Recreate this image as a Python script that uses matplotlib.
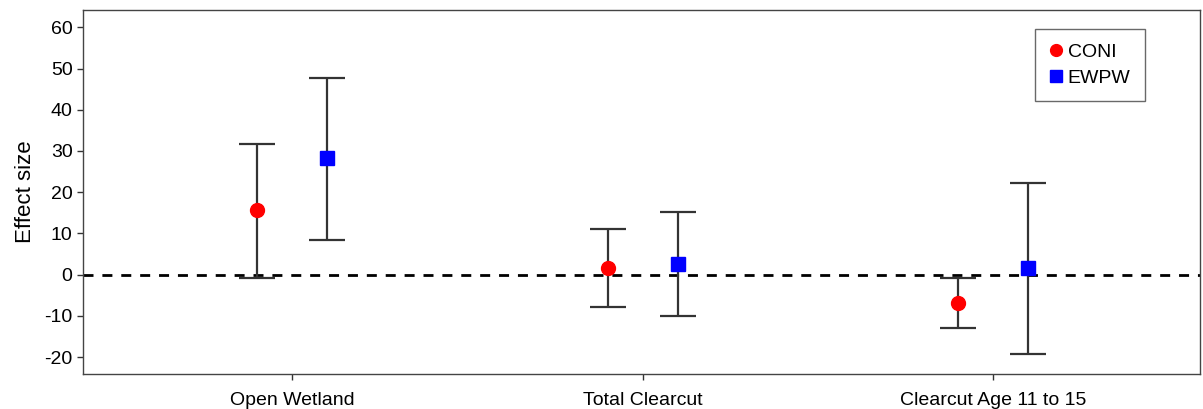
import numpy as np
import matplotlib.pyplot as plt

plt.rcParams['font.family'] = ['Liberation Sans', 'DejaVu Sans']
plt.rcParams['axes.unicode_minus'] = False

# data
categories = ['Open Wetland', 'Total Clearcut', 'Clearcut Age 11 to 15']
coni_est = [15.6, 1.7, -6.8]
coni_lo = [-0.7, -7.8, -12.9]
coni_hi = [31.8, 11.0, -0.9]
ewpw_est = [28.2, 2.6, 1.6]
ewpw_lo = [8.4, -10.1, -19.3]
ewpw_hi = [47.7, 15.3, 22.3]

x = np.arange(len(categories))
off = 0.1

fig = plt.figure(figsize=(12.03, 4.09), dpi=100)
ax = fig.add_axes([0.069, 0.0856, 0.9285, 0.89])

ax.axhline(0, color='black', linestyle=(0, (3.6, 3.2)), linewidth=2, zorder=1)

def draw(xs, est, lo, hi, color, marker, label):
    est = np.array(est)
    err = [est - np.array(lo), np.array(hi) - est]
    ax.errorbar(xs, est, yerr=err, fmt='none', ecolor='#333333',
                elinewidth=1.6, capsize=13, capthick=1.6, zorder=2)
    ax.plot(xs, est, linestyle='none', marker=marker, color=color,
            markersize=10 if marker == 'o' else 9.5, zorder=3, label=label)

draw(x - off, coni_est, coni_lo, coni_hi, 'red', 'o', 'CONI')
draw(x + off, ewpw_est, ewpw_lo, ewpw_hi, 'blue', 's', 'EWPW')

ax.set_xlim(-0.597, 2.59)
ax.set_ylim(-24.1, 64.2)
ax.set_yticks(np.arange(-20, 61, 10))
ax.set_xticks(x)
ax.set_xticklabels(categories)
ax.tick_params(axis='both', labelsize=14, colors='#333333', labelcolor='black',
               length=4, width=1)
ax.tick_params(axis='x', pad=9)
ax.set_ylabel('Effect size', fontsize=16, labelpad=6)
for s in ax.spines.values():
    s.set_color('#444444')
    s.set_linewidth(1)

leg = ax.legend(loc='upper right', bbox_to_anchor=(0.9508, 0.948), fontsize=14,
                frameon=True, fancybox=False, edgecolor='#444444',
                borderaxespad=0, handletextpad=0.3, handlelength=0.65,
                borderpad=0.75, labelspacing=0.41, markerscale=0.85)
leg.get_frame().set_linewidth(1)

plt.savefig('out.png', dpi=100)
